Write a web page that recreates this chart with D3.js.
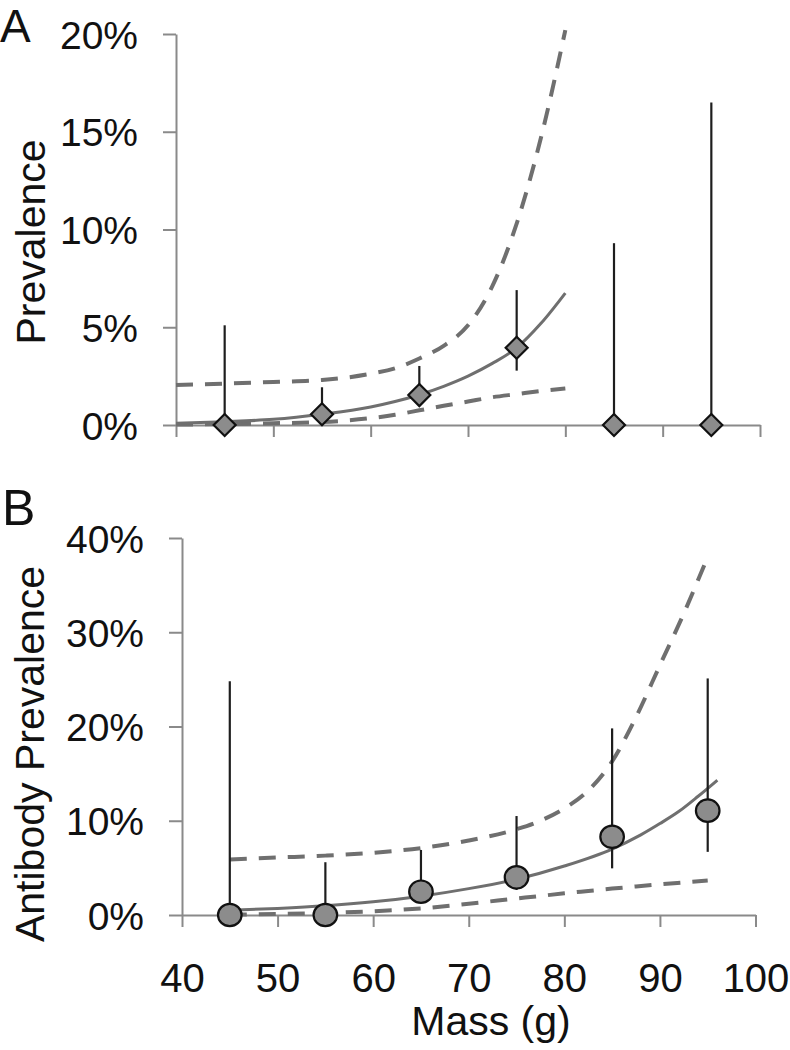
<!DOCTYPE html>
<html>
<head>
<meta charset="utf-8">
<script src="https://cdn.jsdelivr.net/npm/d3@7"></script>
<style>
  html, body { margin: 0; padding: 0; background: #fff; }
  svg { display: block; font-family: "Liberation Sans", Arial, sans-serif; }
</style>
</head>
<body>
<svg id="chart" width="790" height="1050"></svg>
<script>
// ---------- Data ----------
const massBins = [45, 55, 65, 75, 85, 95];
const xTicks = [40, 50, 60, 70, 80, 90, 100];

// Panel A: prevalence (%)
const yTicksA = [0, 5, 10, 15, 20];
const prevA    = [0, 0.55, 1.53, 3.95, 0, 0];
const prevA_lo = [0, 0.1, 1.0, 2.78, 0, 0];
const prevA_hi = [5.1, 1.93, 3.02, 6.9, 9.3, 16.5];
const fitA_x     = [40, 45, 50, 55, 60, 62.5, 65, 67.5, 70, 72.5, 75, 77.5, 80];
const fitA       = [0.09, 0.17, 0.29, 0.55, 0.92, 1.2, 1.55, 1.98, 2.5, 3.15, 3.95, 5.2, 6.75];
const fitA_lower = [0.02, 0.05, 0.09, 0.15, 0.35, 0.52, 0.75, 0.98, 1.2, 1.42, 1.58, 1.74, 1.87];
const fitA_upper = [2.05, 2.12, 2.2, 2.3, 2.62, 2.9, 3.4, 4.05, 5.1, 7.1, 10.3, 14.7, 20.2];

// Panel B: antibody prevalence (%)
const yTicksB = [0, 10, 20, 30, 40];
const prevB    = [0, 0, 2.47, 4.0, 8.3, 11.07];
const prevB_lo = [0, 0, 1.3, 2.65, 4.95, 6.7];
const prevB_hi = [24.8, 5.6, 6.9, 10.5, 19.8, 25.1];
const fitB_x = [45, 50, 55, 60, 65, 70, 75, 80, 85, 88, 90, 92, 94, 96];
const fitB   = [0.5, 0.7, 0.98, 1.4, 2.0, 2.8, 3.8, 5.2, 7.0, 8.5, 9.7, 11.0, 12.6, 14.3];
const fitB_band_x = [45, 50, 55, 60, 65, 70, 75, 77.5, 80, 82.5, 85, 87.5, 90, 92.5, 95];
const fitB_upper  = [5.9, 6.1, 6.3, 6.6, 7.1, 7.9, 9.1, 10.0, 11.3, 13.2, 16.3, 21.0, 26.5, 32.0, 38.0];
const fitB_lower  = [0.05, 0.1, 0.22, 0.4, 0.7, 1.2, 1.75, 2.02, 2.3, 2.55, 2.8, 3.03, 3.25, 3.45, 3.65];

// ---------- Styles ----------
const axisColor = "#8a8a8a";
const curveColor = "#6f6f6f";
const markerFill = "#8c8c8c";
const barColor = "#1e1e1e";

const svg = d3.select("#chart");

function panel(opts) {
  const x = d3.scaleLinear().domain([40, 100]).range(opts.xRange);
  const y = d3.scaleLinear().domain([0, opts.yMax]).range(opts.yRange);
  const g = svg.append("g");

  // y axis
  const ya = g.append("g")
    .attr("transform", `translate(${opts.xRange[0]},0)`)
    .call(d3.axisLeft(y).tickValues(opts.yTicks).tickSize(13).tickSizeOuter(0).tickFormat(d => d + "%"));
  ya.select(".domain").attr("stroke", axisColor).attr("stroke-width", 2);
  ya.selectAll(".tick line").attr("stroke", axisColor).attr("stroke-width", 2);
  ya.selectAll(".tick text")
    .attr("x", -38).attr("dy", "0.36em")
    .attr("fill", "#111").attr("font-size", 39)
    .attr("font-family", '"Liberation Sans", Arial, sans-serif');

  // x axis
  const xa = g.append("g")
    .attr("transform", `translate(0,${opts.yRange[0]})`)
    .call(d3.axisBottom(x).tickValues(xTicks).tickSize(12).tickSizeOuter(0));
  xa.select(".domain").attr("stroke", axisColor).attr("stroke-width", 2);
  xa.selectAll(".tick line").attr("stroke", axisColor).attr("stroke-width", 2);
  if (opts.showXLabels) {
    xa.selectAll(".tick text")
      .attr("y", 77).attr("dy", 0)
      .attr("fill", "#111").attr("font-size", 40)
      .attr("font-family", '"Liberation Sans", Arial, sans-serif');
  } else {
    xa.selectAll(".tick text").remove();
  }

  const line = d3.line().x(d => x(d[0])).y(d => y(d[1])).curve(d3.curveMonotoneX);

  // fit & confidence band
  g.append("path")
    .attr("d", line(opts.bandX.map((v, i) => [v, opts.upper[i]])))
    .attr("fill", "none").attr("stroke", curveColor).attr("stroke-width", 4)
    .attr("stroke-dasharray", "17,12");
  g.append("path")
    .attr("d", line(opts.bandX.map((v, i) => [v, opts.lower[i]])))
    .attr("fill", "none").attr("stroke", curveColor).attr("stroke-width", 4)
    .attr("stroke-dasharray", "17,12");
  g.append("path")
    .attr("d", line(opts.fitX.map((v, i) => [v, opts.fit[i]])))
    .attr("fill", "none").attr("stroke", curveColor).attr("stroke-width", 3);

  // error bars
  g.selectAll(".eb").data(massBins).enter().append("line")
    .attr("x1", d => x(d)).attr("x2", d => x(d))
    .attr("y1", (d, i) => y(opts.lo[i])).attr("y2", (d, i) => y(opts.hi[i]))
    .attr("stroke", barColor).attr("stroke-width", 2.2);

  // markers
  if (opts.marker === "diamond") {
    const s = 11;
    g.selectAll(".mk").data(massBins).enter().append("path")
      .attr("d", (d, i) => {
        const cx = x(d), cy = y(opts.val[i]);
        return `M${cx},${cy - s}L${cx + s},${cy}L${cx},${cy + s}L${cx - s},${cy}Z`;
      })
      .attr("fill", markerFill).attr("stroke", "#111").attr("stroke-width", 2.2);
  } else {
    g.selectAll(".mk").data(massBins).enter().append("ellipse")
      .attr("cx", d => x(d)).attr("cy", (d, i) => y(opts.val[i]))
      .attr("rx", 11.8).attr("ry", 11.2)
      .attr("fill", markerFill).attr("stroke", "#111").attr("stroke-width", 2.2);
  }

  // y title
  svg.append("text")
    .attr("transform", `translate(${opts.titleX},${opts.titleY}) rotate(-90)`)
    .attr("text-anchor", "middle")
    .attr("font-size", 41).attr("fill", "#111")
    .text(opts.yTitle);

  // panel letter
  svg.append("text")
    .attr("x", opts.letterX).attr("y", opts.letterY)
    .attr("font-size", opts.letterSize).attr("fill", "#111")
    .text(opts.letter);
}

panel({
  xRange: [176, 760], yRange: [425, 34], yMax: 20, yTicks: yTicksA,
  showXLabels: false,
  val: prevA, lo: prevA_lo, hi: prevA_hi,
  fitX: fitA_x, fit: fitA, bandX: fitA_x, upper: fitA_upper, lower: fitA_lower,
  marker: "diamond", yTitle: "Prevalence", titleX: 45, titleY: 242,
  letter: "A", letterX: 0, letterY: 42, letterSize: 46
});

panel({
  xRange: [182, 755.5], yRange: [915, 538], yMax: 40, yTicks: yTicksB,
  showXLabels: true,
  val: prevB, lo: prevB_lo, hi: prevB_hi,
  fitX: fitB_x, fit: fitB, bandX: fitB_band_x, upper: fitB_upper, lower: fitB_lower,
  marker: "circle", yTitle: "Antibody Prevalence", titleX: 44, titleY: 754,
  letter: "B", letterX: 2, letterY: 525, letterSize: 50
});

// x title
svg.append("text")
  .attr("x", 491).attr("y", 1035)
  .attr("text-anchor", "middle")
  .attr("font-size", 41).attr("fill", "#111")
  .text("Mass (g)");
</script>
</body>
</html>
